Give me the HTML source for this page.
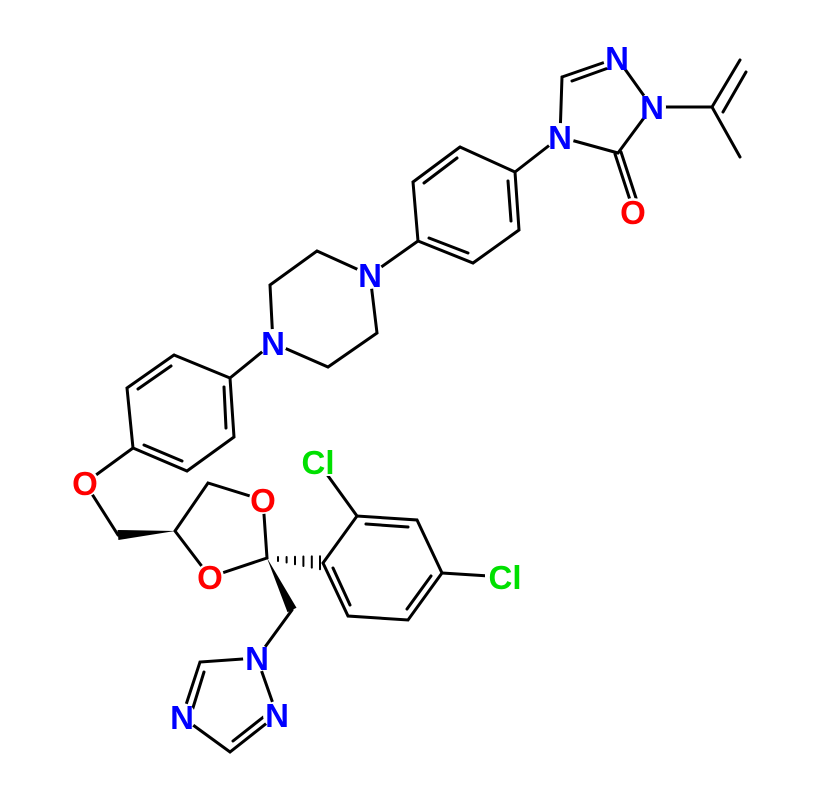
<!DOCTYPE html>
<html><head><meta charset="utf-8"><style>html,body{margin:0;padding:0;background:#fff}svg{display:block}
text{font-family:"Liberation Sans",sans-serif;font-weight:bold;font-size:33px;text-anchor:middle}</style></head>
<body>
<svg width="819" height="807" viewBox="0 0 819 807" xmlns="http://www.w3.org/2000/svg">
<g stroke="#000" stroke-width="3" stroke-linecap="round" fill="none">
<line x1="562" y1="77" x2="617" y2="58"/>
<line x1="572" y1="81" x2="611" y2="67"/>
<line x1="617" y1="58" x2="652" y2="107"/>
<line x1="652" y1="107" x2="618" y2="153"/>
<line x1="618" y1="153" x2="560" y2="137"/>
<line x1="560" y1="137" x2="562" y2="77"/>
<line x1="615" y1="154" x2="630" y2="200"/>
<line x1="621" y1="152" x2="636" y2="198"/>
<line x1="652" y1="107" x2="712" y2="107"/>
<line x1="712" y1="107" x2="740" y2="157"/>
<line x1="712" y1="107" x2="740" y2="60"/>
<line x1="723" y1="112" x2="746" y2="72"/>
<line x1="560" y1="137" x2="515" y2="172"/>
<polyline points="460,147 515,172 519,230 473,263 418,241 413,182 460,147"/>
<line x1="424" y1="183" x2="457" y2="158"/>
<line x1="508" y1="181" x2="511" y2="221"/>
<line x1="429" y1="238" x2="468" y2="253"/>
<line x1="418" y1="241" x2="370" y2="275"/>
<polyline points="370,275 317,251 270,285 273,343 328,367 377,333 370,275"/>
<line x1="273" y1="343" x2="230" y2="378"/>
<polyline points="174,355 230,378 234,437 187,471 133,448 127,388 174,355"/>
<line x1="138" y1="389" x2="171" y2="366"/>
<line x1="224" y1="387" x2="226" y2="428"/>
<line x1="144" y1="445" x2="182" y2="461"/>
<line x1="133" y1="448" x2="85" y2="483"/>
<line x1="85" y1="483" x2="118" y2="535"/>
<polyline points="175,531 208,483 263,500 267,558 210,577 175,531"/>
<polyline points="323,563 357,516 417,520 442,573 408,620 348,616 323,563"/>
<line x1="366" y1="524" x2="408" y2="527"/>
<line x1="431" y1="576" x2="407" y2="609"/>
<line x1="350" y1="605" x2="333" y2="568"/>
<line x1="357" y1="516" x2="318" y2="462"/>
<line x1="442" y1="573" x2="505" y2="577"/>
<line x1="292" y1="610" x2="257" y2="658"/>
<polyline points="257,658 200,662 182,717 230,752 277,715 257,658"/>
<line x1="204" y1="672" x2="192" y2="711"/>
<line x1="233" y1="741" x2="266" y2="715"/>
<g stroke-width="2">
<line x1="278" y1="557" x2="278" y2="561"/>
<line x1="286.6" y1="557" x2="286.6" y2="562.5"/>
<line x1="295" y1="556.7" x2="295" y2="564.3"/>
<line x1="303.4" y1="556.5" x2="303.4" y2="566"/>
<line x1="311.8" y1="556.4" x2="311.8" y2="567.6"/>
<line x1="320" y1="556.3" x2="320" y2="569.2"/>
</g>
</g>
<polygon points="175,531 118.4,540 117.6,530" fill="#000"/>
<polygon points="267,558 296.5,607.8 287.5,612.2" fill="#000"/>
<g fill="#fff">
<circle cx="617" cy="58" r="14"/><circle cx="652" cy="107" r="14"/><circle cx="560" cy="137" r="14"/>
<circle cx="370" cy="275" r="14"/><circle cx="273" cy="343" r="14"/><circle cx="257" cy="658" r="14"/>
<circle cx="182" cy="717" r="14"/><circle cx="277" cy="715" r="14"/>
<circle cx="633" cy="212" r="14"/><circle cx="85" cy="483" r="14"/><circle cx="263" cy="500" r="14"/><circle cx="210" cy="577" r="14"/>
<rect x="298" y="448" width="42" height="28"/><rect x="485" y="563" width="42" height="28"/>
</g>
<g fill="#0000ff">
<text x="617" y="70">N</text>
<text x="652" y="119">N</text>
<text x="560" y="149">N</text>
<text x="370" y="287">N</text>
<text x="273" y="355">N</text>
<text x="257" y="670">N</text>
<text x="182" y="729">N</text>
<text x="277" y="727">N</text>
</g>
<g fill="#ff0000">
<text x="633" y="224">O</text>
<text x="85" y="495">O</text>
<text x="263" y="512">O</text>
<text x="210" y="589">O</text>
</g>
<g fill="#00e000">
<text x="318" y="474">Cl</text>
<text x="505" y="589">Cl</text>
</g>
</svg>
</body></html>
